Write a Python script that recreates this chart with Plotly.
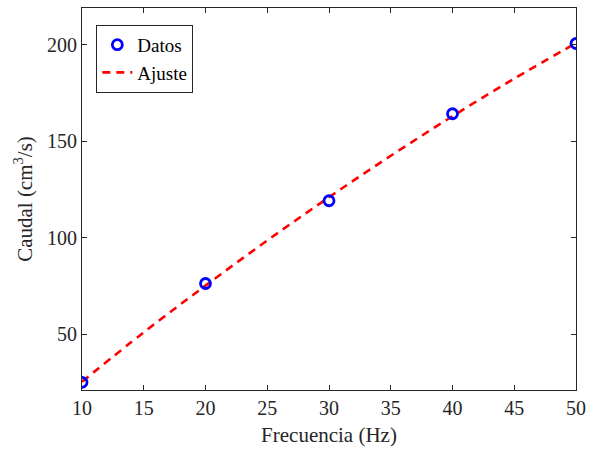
import plotly.graph_objects as go

# Measured flow rate against pump frequency
frecuencia = [10, 20, 30, 40, 50]
caudal = [25.1, 76.3, 119.2, 164.3, 200.7]

# Fitted curve, sampled along the frequency range
frec_ajuste = [10, 15, 20, 25, 30, 35, 40, 45, 50]
caudal_ajuste = [25.4, 51.0, 75.2, 98.6, 121.0, 142.5, 163.0, 182.5, 200.9]

x_ticks = [10, 15, 20, 25, 30, 35, 40, 45, 50]
y_ticks = [50, 100, 150, 200]

FONT = "Liberation Serif, Times New Roman, serif"
AXIS_COLOR = "#262626"

fig = go.Figure()
fig.add_trace(go.Scatter(
    x=frec_ajuste, y=caudal_ajuste, mode="lines", name="Ajuste",
    line=dict(color="#ff0000", width=2.6, dash="8px,6px", shape="spline"),
    showlegend=False,
))
fig.add_trace(go.Scatter(
    x=frecuencia, y=caudal, mode="markers", name="Datos",
    marker=dict(symbol="circle-open", size=10, color="#0000ff",
                line=dict(width=2.8, color="#0000ff")),
))
# legend entry for the fit (listed after the data markers)
fig.add_trace(go.Scatter(
    x=[None], y=[None], mode="lines", name="Ajuste",
    line=dict(color="#ff0000", width=2.6, dash="8px,6px"),
))

axis_common = dict(
    showline=True, linecolor=AXIS_COLOR, linewidth=1, mirror="ticks",
    ticks="inside", ticklen=5, tickwidth=1, tickcolor=AXIS_COLOR,
    showgrid=False, zeroline=False,
    tickfont=dict(family=FONT, size=20, color=AXIS_COLOR),
)

fig.update_layout(
    width=595, height=450,
    margin=dict(l=82, r=19, t=7, b=59),
    paper_bgcolor="white", plot_bgcolor="white",
    font=dict(family=FONT, size=20, color=AXIS_COLOR),
    xaxis=dict(range=[10, 50], tickvals=x_ticks,
               title=dict(text="Frecuencia (Hz)", font=dict(family=FONT, size=21, color=AXIS_COLOR), standoff=9),
               **axis_common),
    yaxis=dict(range=[21.1, 219.1], tickvals=y_ticks,
               title=dict(text="Caudal (cm<sup>3</sup>/s)", font=dict(family=FONT, size=21, color=AXIS_COLOR), standoff=8),
               **axis_common),
    legend=dict(x=0.029, y=0.956, xanchor="left", yanchor="top",
                bgcolor="white", bordercolor="#262626", borderwidth=1,
                font=dict(family=FONT, size=19, color="black"),
                itemwidth=30, tracegroupgap=0),
)

fig.write_html("out.html")
